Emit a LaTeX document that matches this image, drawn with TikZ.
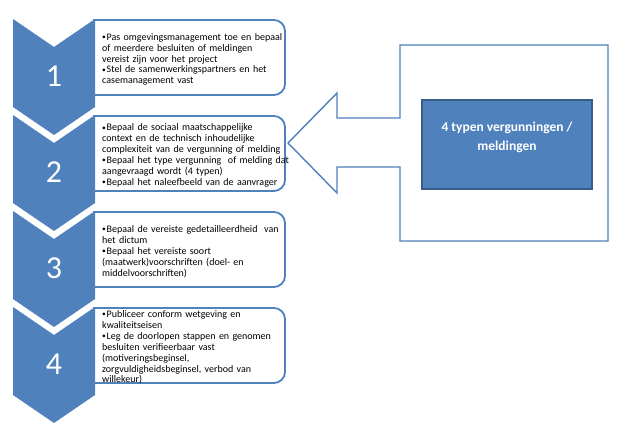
\documentclass[tikz,border=0pt]{standalone}
\usepackage{graphicx}
\usepackage{fontspec}
\setmainfont{Carlito}
\definecolor{ofblue}{HTML}{4F81BD}
\definecolor{ofdark}{HTML}{385D8A}
\newcommand{\bitem}[1]{\par\hangindent=4.5pt\hangafter=1\noindent\makebox[4.5pt][l]{\raisebox{0.6pt}{\scalebox{0.75}{\textbullet}}}#1}
\tikzset{
  chev/.style={fill=ofblue, draw=none},
  stepbox/.style={fill=white, draw=ofblue, line width=1.8pt, rounded corners=11pt},
  num/.style={text=white, font=\fontsize{32}{36}\selectfont, inner sep=0pt},
  txt/.style={anchor=west, inner sep=0pt, text width=195pt, align=left,
              font=\fontsize{10}{10.9}\selectfont},
  callout/.style={fill=white, draw=ofblue, line width=1.4pt, line join=miter},
  typebox/.style={fill=ofblue, draw=ofdark, line width=1.2pt},
  typetxt/.style={text=white, font=\bfseries\fontsize{13.5}{19}\selectfont, align=center, inner sep=0pt}
}
\begin{document}
\begin{tikzpicture}[x=1pt,y=-1pt]
\useasboundingbox (0,0) rectangle (627,434);
\fill[white] (0,0) rectangle (627,434);
% text boxes (behind chevrons)
\foreach \T in {20,116,212,308}{
  \draw[stepbox] (93,\T) -- (285,\T) -- (285,\T+75) -- (93,\T+75);
}
% chevrons
\foreach \T/\n in {19/1,115/2,211/3,307/4}{
  \path[chev] (13,\T) -- (54,\T+28) -- (95,\T) -- (95,\T+88) -- (54,\T+116) -- (13,\T+88) -- cycle;
  \node[num] (n\n) at (54,\T+57) {\n};
}
% texts
\node[txt] (t1) at (102,57.5) {%
\bitem{Pas omgevingsmanagement toe en bepaal\\ of meerdere besluiten of meldingen\\ vereist zijn voor het project}
\bitem{Stel de samenwerkingspartners en het\\ casemanagement vast}};
\node[txt] (t2) at (102,153.5) {%
\bitem{Bepaal de sociaal maatschappelijke\\ context en de technisch inhoudelijke\\ complexiteit van de vergunning of melding}
\bitem{Bepaal het type vergunning\ \ of melding dat\\ aangevraagd wordt (4 typen)}
\bitem{Bepaal het naleefbeeld van de aanvrager}};
\node[txt] (t3) at (102,249.5) {%
\bitem{Bepaal de vereiste gedetailleerdheid\ \ van\\ het dictum}
\bitem{Bepaal het vereiste soort\\ (maatwerk)voorschriften (doel- en\\ middelvoorschriften)}};
\node[txt] (t4) at (102,345.5) {%
\bitem{Publiceer conform wetgeving en\\ kwaliteitseisen}
\bitem{Leg de doorlopen stappen en genomen\\ besluiten verifieerbaar vast\\ (motiveringsbeginsel,\\ zorgvuldigheidsbeginsel, verbod van\\ willekeur)}};
% left arrow callout
\path[callout] (608,45) -- (400,45) -- (400,118) -- (337,118) -- (337,93) -- (288,143)
  -- (337,193) -- (337,167) -- (400,167) -- (400,241) -- (608,241) -- cycle;
\coordinate (tip) at (288,143);
\draw[typebox] (422,100) rectangle (592,189);
\node[typetxt] (types) at (507,137.5) {4 typen vergunningen /\\ meldingen};
\end{tikzpicture}
\end{document}
